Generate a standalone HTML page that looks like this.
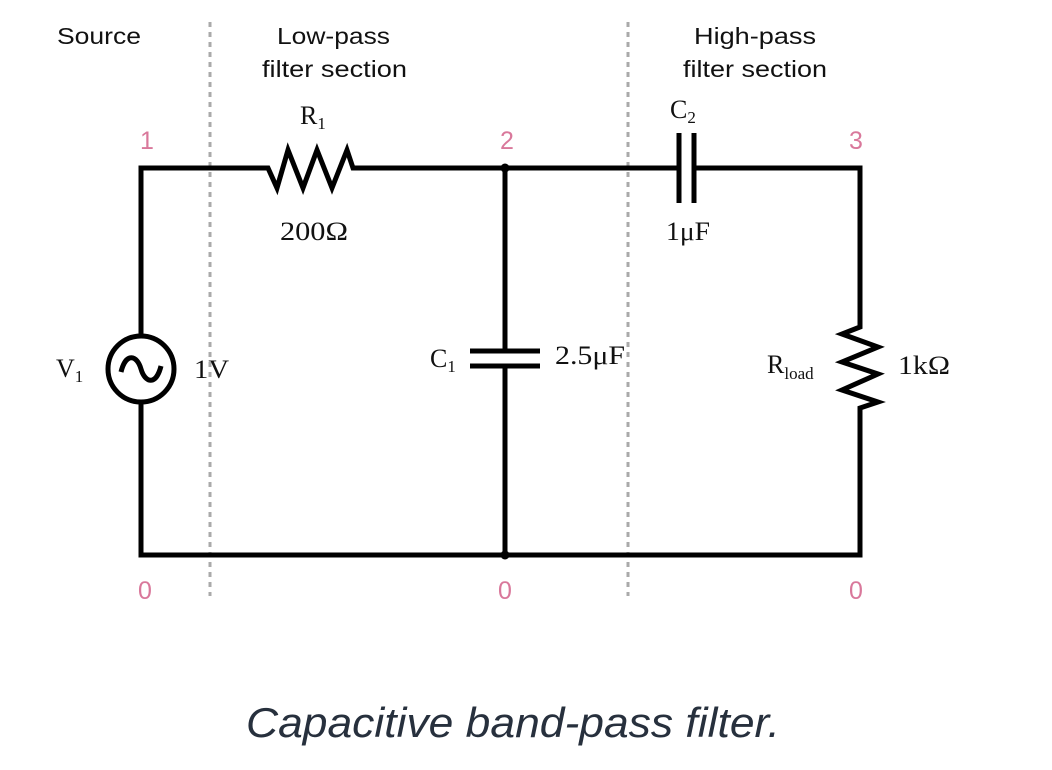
<!DOCTYPE html>
<html><head><meta charset="utf-8"><style>
html,body{margin:0;padding:0;background:#fff;}
svg{display:block;}
.s{font-family:"Liberation Sans",sans-serif;font-size:23px;fill:#111;}
.n{font-family:"Liberation Sans",sans-serif;font-size:25px;fill:#d9789b;}
.t{font-family:"Liberation Serif",serif;font-size:26px;fill:#111;}
.sub{font-size:17px;}
</style></head><body>
<svg width="1052" height="770" viewBox="0 0 1052 770" xmlns="http://www.w3.org/2000/svg">
<g stroke="#aaa" stroke-width="3" stroke-dasharray="5,5">
<line x1="210" y1="22" x2="210" y2="596"/>
<line x1="628" y1="22" x2="628" y2="596"/>
</g>
<g fill="none" stroke="#000" stroke-width="5" stroke-linejoin="miter">
<polyline points="141,335 141,168 268,168 277,188 288,150 303,188 317,150 332,188 347,150 353,168 679,168"/>
<line x1="679" y1="133" x2="679" y2="203"/>
<line x1="694" y1="133" x2="694" y2="203"/>
<polyline points="694,168 860,168 860,327 842,334 878,347 842,362 878,374 842,390 878,402 860,408 860,555 141,555 141,403"/>
<circle cx="141" cy="369" r="33"/>
<path d="M121,372 C126,352 137,355 141,369 C145,383 156,386 161,366" />
<line x1="505" y1="168" x2="505" y2="351"/>
<line x1="505" y1="366" x2="505" y2="555"/>
<line x1="470" y1="351" x2="540" y2="351"/>
<line x1="470" y1="366" x2="540" y2="366"/>
</g>
<circle cx="505" cy="168" r="4.5" fill="#000"/>
<circle cx="505" cy="555" r="4.5" fill="#000"/>
<text class="s" x="57" y="44" textLength="84" lengthAdjust="spacingAndGlyphs">Source</text>
<text class="s" x="277" y="44" textLength="113" lengthAdjust="spacingAndGlyphs">Low-pass</text>
<text class="s" x="262" y="77" textLength="145" lengthAdjust="spacingAndGlyphs">filter section</text>
<text class="s" x="694" y="44" textLength="122" lengthAdjust="spacingAndGlyphs">High-pass</text>
<text class="s" x="683" y="77" textLength="144" lengthAdjust="spacingAndGlyphs">filter section</text>
<text class="n" x="147" y="149" text-anchor="middle">1</text>
<text class="n" x="507" y="149" text-anchor="middle">2</text>
<text class="n" x="856" y="149" text-anchor="middle">3</text>
<text class="n" x="145" y="599" text-anchor="middle">0</text>
<text class="n" x="505" y="599" text-anchor="middle">0</text>
<text class="n" x="856" y="599" text-anchor="middle">0</text>
<text class="t" x="300" y="124">R<tspan class="sub" dy="5">1</tspan></text>
<text class="t" x="280" y="240" textLength="68" lengthAdjust="spacingAndGlyphs">200Ω</text>
<text class="t" x="670" y="118">C<tspan class="sub" dy="5">2</tspan></text>
<text class="t" x="666" y="240" textLength="44" lengthAdjust="spacingAndGlyphs">1μF</text>
<text class="t" x="56" y="377">V<tspan class="sub" dy="5">1</tspan></text>
<text class="t" x="194" y="378" textLength="35" lengthAdjust="spacingAndGlyphs">1V</text>
<text class="t" x="430" y="367">C<tspan class="sub" dy="5">1</tspan></text>
<text class="t" x="555" y="364" textLength="70" lengthAdjust="spacingAndGlyphs">2.5μF</text>
<text class="t" x="767" y="373">R<tspan class="sub" dy="6">load</tspan></text>
<text class="t" x="898" y="374" textLength="52" lengthAdjust="spacingAndGlyphs">1kΩ</text>
<text x="246" y="737" textLength="534" lengthAdjust="spacingAndGlyphs" font-family="Liberation Sans, sans-serif" font-style="italic" font-size="42" fill="#27303d">Capacitive band-pass filter.</text>
</svg>
</body></html>
